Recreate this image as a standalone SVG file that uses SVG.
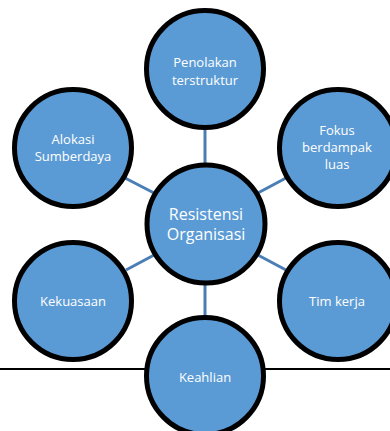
<svg xmlns="http://www.w3.org/2000/svg" width="390" height="431" viewBox="0 0 390 431">
<style>
.n{fill:#5b9bd5;stroke:#000;stroke-width:5}
.t{fill:#fff;font-family:"Open Sans","Liberation Sans",sans-serif;font-size:13px;text-anchor:middle}
.c{font-size:16px}
.e{stroke:#4a7eb4;stroke-width:3;fill:none}
</style>
<line x1="0" y1="369" x2="390" y2="369" stroke="#000" stroke-width="2"/>
<g id="connectors">
<line class="e" x1="205" y1="128" x2="205" y2="164"/>
<line class="e" x1="125" y1="178" x2="156" y2="194"/>
<line class="e" x1="286" y1="178" x2="256" y2="194"/>
<line class="e" x1="126" y1="270" x2="156" y2="254"/>
<line class="e" x1="286" y1="270" x2="256" y2="254"/>
<line class="e" x1="205" y1="284" x2="205" y2="316"/>
</g>
<g id="center"><circle class="n" cx="206" cy="224" r="59"/><text class="t c" x="206" y="220">Resistensi</text><text class="t c" x="206" y="240">Organisasi</text></g>
<g id="penolakan"><circle class="n" cx="205" cy="69" r="58.5"/><text class="t" x="205" y="67">Penolakan</text><text class="t" x="205" y="85">terstruktur</text></g>
<g id="alokasi"><circle class="n" cx="73" cy="148" r="58.5"/><text class="t" x="73" y="144">Alokasi</text><text class="t" x="73" y="161">Sumberdaya</text></g>
<g id="fokus"><circle class="n" cx="338" cy="148" r="58.5"/><text class="t" x="337" y="135">Fokus</text><text class="t" x="337" y="152">berdampak</text><text class="t" x="337" y="169">luas</text></g>
<g id="kekuasaan"><circle class="n" cx="73" cy="301" r="58.5"/><text class="t" x="73" y="306">Kekuasaan</text></g>
<g id="timkerja"><circle class="n" cx="338" cy="301" r="58.5"/><text class="t" x="337" y="306">Tim kerja</text></g>
<g id="keahlian"><circle class="n" cx="205" cy="376" r="58.5"/><text class="t" x="205" y="382">Keahlian</text></g>
</svg>
